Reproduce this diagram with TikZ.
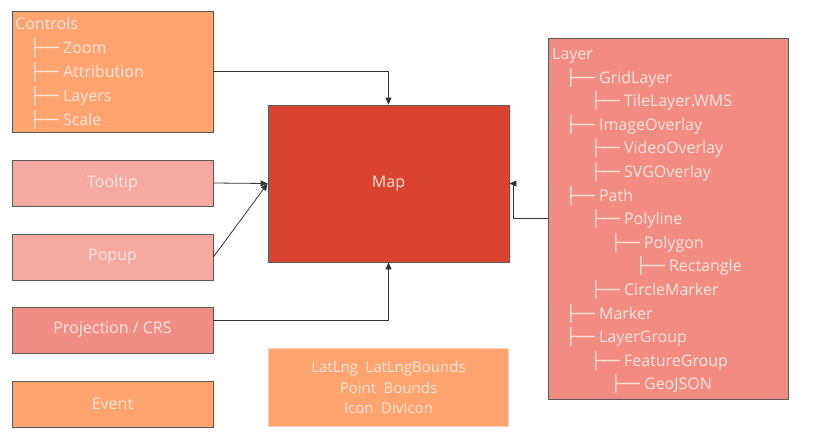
\documentclass[tikz,border=0pt]{standalone}
\usepackage{fontspec}
\setmainfont{Open Sans}
\newfontfamily\treefont{DejaVu Sans}
\usetikzlibrary{arrows.meta}
\definecolor{boxorange}{HTML}{FFA46E}
\definecolor{boxpink}{HTML}{F4AAA0}
\definecolor{boxrose}{HTML}{F08E86}
\definecolor{boxlayer}{HTML}{F28C83}
\definecolor{boxmap}{HTML}{D9432F}
\definecolor{boxline}{HTML}{5A5A5A}
\definecolor{boxtext}{HTML}{FFE6DA}
\newcommand{\branch}{{\treefont ├──}\hspace{4pt}}

\begin{document}
\begin{tikzpicture}[x=1pt, y=-1pt, arrows={-Triangle[length=7pt,width=6pt]},
	font=\fontsize{16}{18}\selectfont,
	box/.style={draw=boxline, line width=0.8pt, text=boxtext, inner sep=0pt},
	treetext/.style={anchor=base west, inner sep=0pt, text=boxtext},
	link/.style={draw=black!80, line width=0.8pt}]
	\useasboundingbox (0,0) rectangle (813,445);

	\node[box, fill=boxorange, minimum width=201pt, minimum height=121pt] (controls) at (112.5,71.5) {};
	\node[box, fill=boxpink, minimum width=201pt, minimum height=46pt] (tooltip) at (112.5,183) {Tooltip};
	\node[box, fill=boxpink, minimum width=201pt, minimum height=46pt] (popup) at (112.5,257) {Popup};
	\node[box, fill=boxrose, minimum width=201pt, minimum height=46pt] (proj) at (112.5,330) {Projection / CRS};
	\node[box, fill=boxorange, minimum width=201pt, minimum height=46pt] (event) at (112.5,404) {Event};
	\node[box, fill=boxmap, minimum width=241pt, minimum height=157pt] (map) at (388.5,183.5) {Map};
	\node[box, draw=boxorange!50!white, fill=boxorange, minimum width=240pt, minimum height=78pt, align=center,
		font=\fontsize{15}{20.5}\selectfont] (types) at (388.5,387.5) {LatLng\enspace LatLngBounds\\Point\enspace Bounds\\Icon\enspace DivIcon};
	\node[box, fill=boxlayer, minimum width=240pt, minimum height=361pt] (layer) at (668,218.5) {};

	\node[treetext] (ctrl0) at (15,29.5) {Controls};
	\foreach \t [count=\i] in {Zoom, Attribution, Layers, Scale}
		\node[treetext] (ctrl\i) at (30,29.5+24*\i) {\branch\t};

	\node[treetext] (lay0) at (552,59.5) {Layer};
	\foreach \x/\t [count=\i] in {566/GridLayer, 591/TileLayer.WMS, 566/ImageOverlay, 591/VideoOverlay,
		591/SVGOverlay, 566/Path, 591/Polyline, 611/Polygon, 636/Rectangle, 591/CircleMarker,
		566/Marker, 566/LayerGroup, 591/FeatureGroup, 611/GeoJSON}
		\node[treetext] (lay\i) at (\x,59.5+23.6*\i) {\branch\t};

	\draw[link] (controls.east) -| (map.north);
	\draw[link] (tooltip.east) -- (map.west);
	\draw[link] (popup.east) -- (map.west);
	\draw[link] ([yshift=10pt]proj.east) -| (map.south);
	\draw[link] (layer.west) -- ++(-34,0) |- (map.east);
\end{tikzpicture}
\end{document}
